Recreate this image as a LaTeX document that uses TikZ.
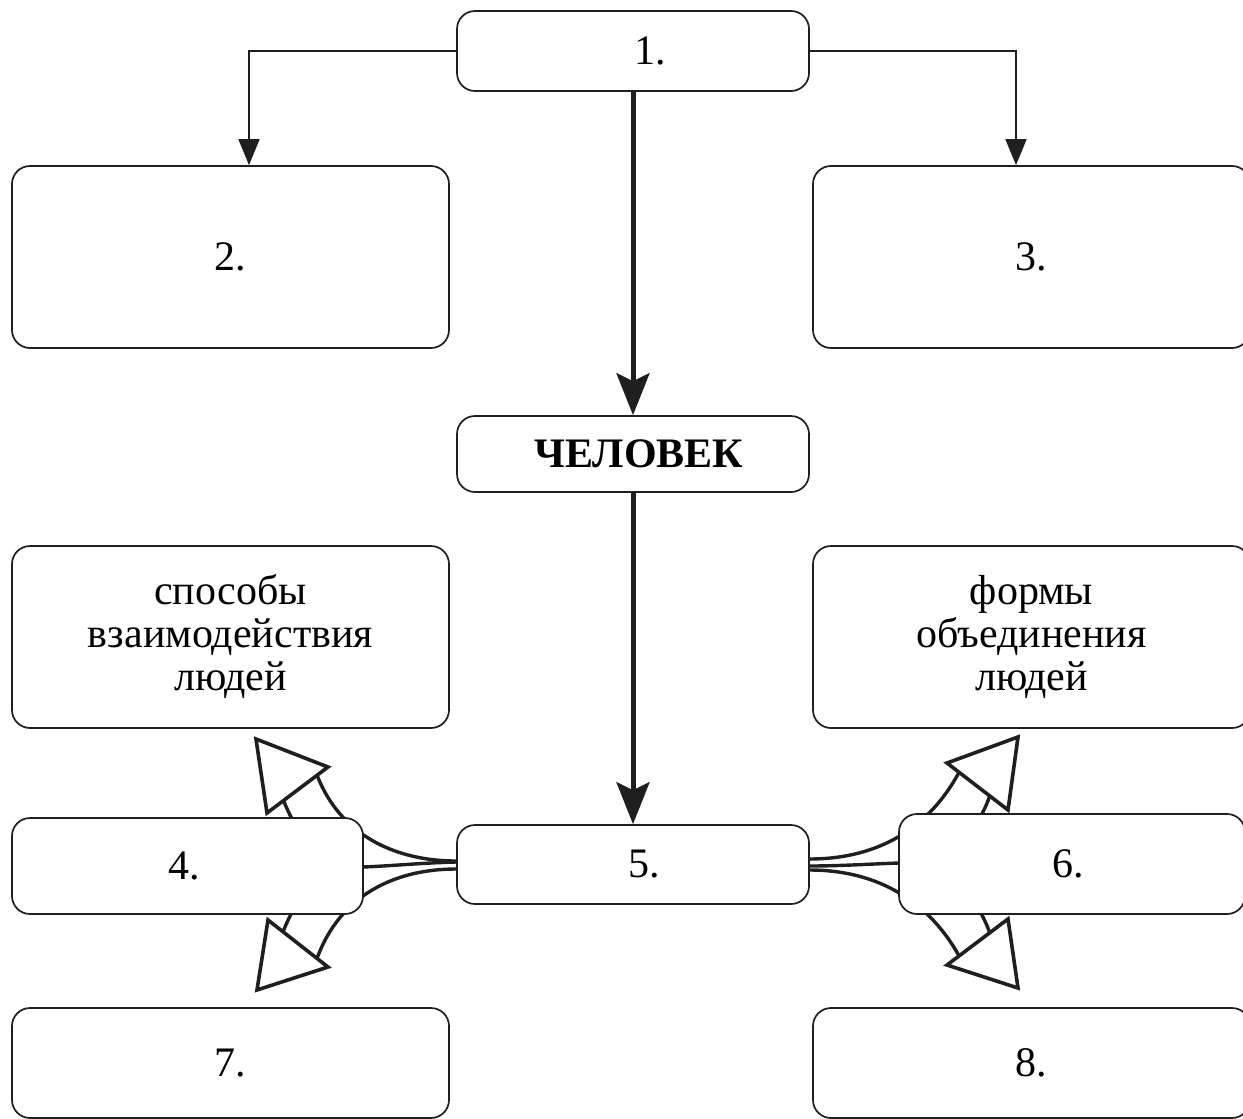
\documentclass[tikz,border=0pt]{standalone}
\usepackage{fontspec}
\setmainfont{Liberation Serif}
\usetikzlibrary{arrows.meta,backgrounds}
\begin{document}
\begin{tikzpicture}[x=1pt,y=-1pt,
  box/.style={draw=black!88, line width=1.7pt, rounded corners=18pt, fill=white,
    inner sep=0pt, font=\fontsize{42}{43}\selectfont, align=center},
  thinline/.style={line width=1.7pt, draw=black!88},
  heavy/.style={line width=5pt, draw=black!88, -{Stealth[length=42pt,width=33pt,inset=8pt]}},
  shaft/.style={line width=3.4pt, draw=black!88},
  headtri/.style={line width=3.6pt, draw=black!88, line join=miter},
]
\useasboundingbox (0,0) rectangle (1243,1119);
\clip (0,0) rectangle (1243,1119);

% boxes
\node[box, minimum width=352pt, minimum height=80pt] (b1) at (633,51) {\hspace*{34pt}1.};
\node[box, minimum width=437pt, minimum height=182pt] (b2) at (230.5,257) {2.};
\node[box, minimum width=437pt, minimum height=182pt] (b3) at (1031.5,257) {3.};
\node[box, minimum width=352pt, minimum height=76pt, font=\fontsize{42}{43}\selectfont\bfseries] (bh) at (633,454) {\hspace*{12pt}ЧЕЛОВЕК};
\node[box, minimum width=437pt, minimum height=182pt] (bs) at (230.5,637) {способы\\взаимодействия\\людей};
\node[box, minimum width=437pt, minimum height=182pt] (bf) at (1031.5,637) {формы\\объединения\\людей};
\node[box, minimum width=351pt, minimum height=96pt] (b4) at (187.5,866) {\hspace*{-6pt}4.};
\node[box, minimum width=352pt, minimum height=79pt] (b5) at (633,864.5) {\hspace*{22pt}5.};
\node[box, minimum width=346pt, minimum height=100pt] (b6) at (1072,864) {\hspace*{-8pt}6.};
\node[box, minimum width=437pt, minimum height=110pt] (b7) at (230.5,1063) {7.};
\node[box, minimum width=437pt, minimum height=110pt] (b8) at (1031.5,1063) {8.};

% thin arrows from box 1
\coordinate (c2) at (249,0);
\coordinate (c3) at (1016,0);
\draw[thinline, -{Triangle[length=26pt,width=21pt]}] (b1.west) -| (c2 |- b2.north);
\draw[thinline, -{Triangle[length=26pt,width=21pt]}] (b1.east) -| (c3 |- b3.north);

% heavy arrows
\draw[heavy] (b1.south) -- (bh.north);
\draw[heavy] (bh.south) -- (b5.north);

% triangle heads and attach points
\coordinate (lu1) at (256,739); \coordinate (lu2) at (328,767); \coordinate (lu3) at (267,813);
\coordinate (ld1) at (257,990); \coordinate (ld2) at (328,967); \coordinate (ld3) at (268,920);
\coordinate (ru1) at (1018,737); \coordinate (ru2) at (947,763); \coordinate (ru3) at (1008,810);
\coordinate (rd1) at (1018,988); \coordinate (rd2) at (947,965); \coordinate (rd3) at (1008,919);

\coordinate (luo) at (317,775);   \coordinate (lui) at (283.5,800.6);
\coordinate (ldo) at (317,958.5); \coordinate (ldi) at (283,931.8);
\coordinate (ruo) at (959,772.4); \coordinate (rui) at (989.7,795.9);
\coordinate (rdo) at (959,955.8); \coordinate (rdi) at (989.7,932.8);

\coordinate (lm) at (363,867);
\coordinate (rm) at (899,863);

\begin{scope}[on background layer]
  % left side
  \draw[shaft] ([yshift=3.5pt]b5.west) .. controls (395,861) and (340,835) .. (luo);
  \draw[shaft] ([yshift=-4.5pt]b5.west) .. controls (395,869) and (340,895) .. (ldo);
  \draw[shaft] ([yshift=2.5pt]b5.west) .. controls (420,863) and (390,866) .. (lm)
        .. controls (320,868) and (300,840) .. (lui);
  \draw[shaft] (lm) .. controls (320,866) and (300,890) .. (ldi);
  % right side
  \draw[shaft] ([yshift=5.5pt]b5.east) .. controls (870,859) and (925,835) .. (ruo);
  \draw[shaft] ([yshift=-5.5pt]b5.east) .. controls (870,870) and (925,895) .. (rdo);
  \draw[shaft] ([yshift=-1.5pt]b5.east) .. controls (840,866) and (870,864) .. (rm)
        .. controls (940,862) and (975,840) .. (rui);
  \draw[shaft] (rm) .. controls (940,864) and (975,890) .. (rdi);
\end{scope}

\draw[headtri] (lu1) -- (lu2) -- (lu3) -- cycle;
\draw[headtri] (ld1) -- (ld2) -- (ld3) -- cycle;
\draw[headtri] (ru1) -- (ru2) -- (ru3) -- cycle;
\draw[headtri] (rd1) -- (rd2) -- (rd3) -- cycle;
\end{tikzpicture}
\end{document}
